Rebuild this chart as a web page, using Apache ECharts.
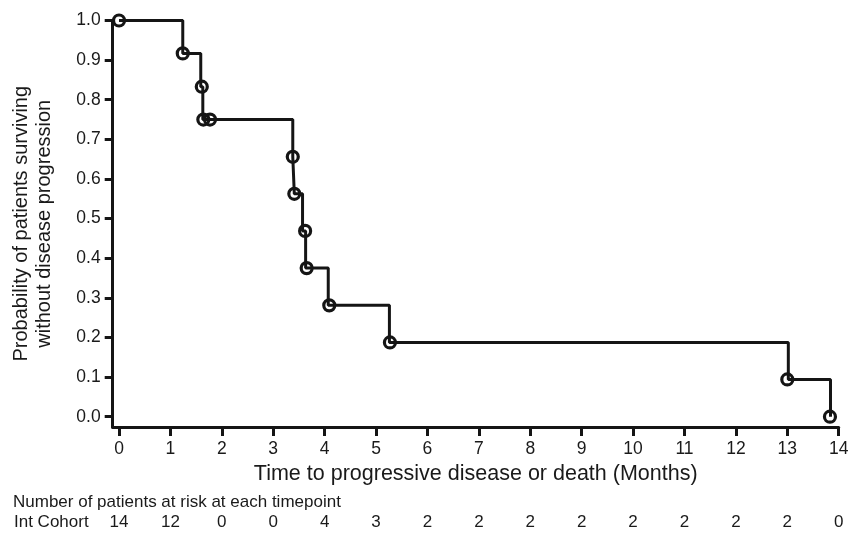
<!DOCTYPE html>
<html>
<head>
<meta charset="utf-8">
<script src="https://cdn.jsdelivr.net/npm/echarts@6/dist/echarts.min.js"></script>
<style>
  html, body { margin: 0; padding: 0; background: #fff; }
  #main { width: 857px; height: 533px; }
</style>
</head>
<body>
<div id="main"></div>
<script>
// tick labels
var months = [0, 1, 2, 3, 4, 5, 6, 7, 8, 9, 10, 11, 12, 13, 14]
var yTicks = [0, 0.1, 0.2, 0.3, 0.4, 0.5, 0.6, 0.7, 0.8, 0.9, 1.0]

// Kaplan-Meier steps (time in months, survival probability)
var stepTimes = [0, 1.24, 1.59, 1.63, 3.38, 3.41, 3.57, 3.63, 4.07, 5.26, 13.02, 13.84]
var survival = [1, 0.917, 0.833, 0.75, 0.656, 0.5625, 0.469, 0.375, 0.281, 0.1875, 0.094, 0]

// circle marks
var markTimes = [0, 1.24, 1.61, 1.64, 1.77, 3.38, 3.41, 3.62, 3.65, 4.09, 5.27, 13.0, 13.83]
var markSurvival = [1, 0.917, 0.833, 0.75, 0.75, 0.656, 0.5625, 0.469, 0.375, 0.281, 0.1875, 0.094, 0]

// number at risk at each month
var atRisk = [14, 12, 0, 0, 4, 3, 2, 2, 2, 2, 2, 2, 2, 2, 0]

var ink = '#151515'
var txt = '#1a1a1a'
var font = "'Liberation Sans', Arial, sans-serif"

var chart = echarts.init(document.getElementById('main'))
chart.setOption({
  animation: false,
  title: [
    {
      text: 'Number of patients at risk at each timepoint',
      left: 13, top: 494, padding: 0,
      textStyle: { fontFamily: font, fontSize: 17, fontWeight: 'normal', color: txt }
    },
    {
      text: 'Int Cohort',
      left: 14, top: 514, padding: 0,
      textStyle: { fontFamily: font, fontSize: 17, fontWeight: 'normal', color: txt }
    }
  ],
  grid: { left: 112.7, right: 18.3, top: 20.5, bottom: 106 },
  xAxis: [
    {
      type: 'value',
      min: -0.123, max: 14,
      name: 'Time to progressive disease or death (Months)',
      nameLocation: 'middle',
      nameGap: 36,
      nameTextStyle: { fontFamily: font, fontSize: 21.5, color: txt },
      axisLine: { onZero: false, lineStyle: { color: ink, width: 3 } },
      axisTick: { customValues: months, length: 9, lineStyle: { color: ink, width: 3 } },
      axisLabel: { customValues: months, margin: 13, fontFamily: font, fontSize: 17.5, color: txt },
      splitLine: { show: false }
    },
    {
      type: 'value',
      position: 'bottom',
      offset: 80,
      min: -0.123, max: 14,
      axisLine: { show: false },
      axisTick: { show: false },
      axisLabel: {
        customValues: months,
        margin: 7,
        fontFamily: font, fontSize: 17, color: txt,
        formatter: function (v) { return String(atRisk[Math.round(v)]) }
      },
      splitLine: { show: false }
    }
  ],
  yAxis: {
    type: 'value',
    min: -0.026, max: 1.0,
    name: 'Probability of patients surviving\nwithout disease progression',
    nameLocation: 'middle',
    nameGap: 57,
    nameTextStyle: { fontFamily: font, fontSize: 20, lineHeight: 23, color: txt },
    axisLine: { onZero: false, lineStyle: { color: ink, width: 3 } },
    axisTick: { customValues: yTicks, length: 8, lineStyle: { color: ink, width: 3 } },
    axisLabel: {
      customValues: yTicks, margin: 12, fontFamily: font, fontSize: 17.5, color: txt,
      formatter: function (v) { return v.toFixed(1) }
    },
    splitLine: { show: false }
  },
  series: [
    {
      type: 'line',
      step: 'end',
      showSymbol: false,
      data: stepTimes.map(function (t, i) { return [t, survival[i]] }),
      lineStyle: { color: ink, width: 3 },
      emphasis: { disabled: true },
      z: 2
    },
    {
      type: 'scatter',
      symbol: 'circle',
      symbolSize: 11,
      data: markTimes.map(function (t, i) { return [t, markSurvival[i]] }),
      itemStyle: { color: 'rgba(0,0,0,0)', borderColor: ink, borderWidth: 3.2, opacity: 1 },
      emphasis: { disabled: true },
      z: 3
    }
  ]
})
</script>
</body>
</html>
